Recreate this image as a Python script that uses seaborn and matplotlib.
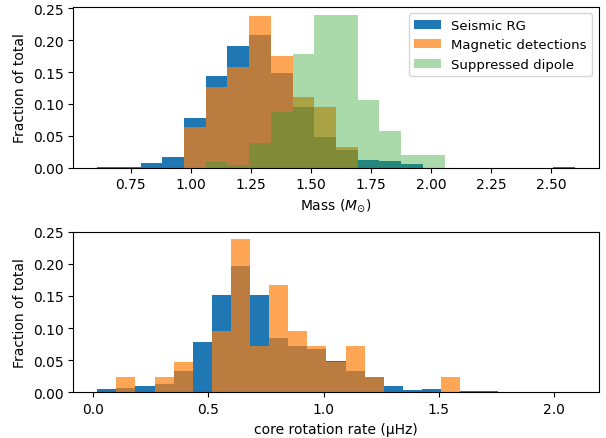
import numpy as np
import pandas as pd
import matplotlib
matplotlib.use("Agg")
import matplotlib.pyplot as plt
import seaborn as sns

# ------ DATA (fraction of total per bin) ------
mass_edges = np.linspace(0.61, 2.60, 23)
mass_seismic = [0.001, 0.001, 0.0063, 0.0158, 0.0777, 0.1444, 0.1906, 0.2089,
                0.1486, 0.0955, 0.0483, 0.0276, 0.0124, 0.0098, 0.0053, 0.0,
                0.0, 0.0, 0.0, 0.0, 0.0, 0.001]
mass_magnetic = [0.0, 0.0, 0.0, 0.0, 0.0635, 0.127, 0.1587, 0.2381,
                 0.1746, 0.1111, 0.0952, 0.0317, 0.0, 0.0, 0.0, 0.0,
                 0.0, 0.0, 0.0, 0.0, 0.0, 0.0]
mass_suppressed = [0.0, 0.0, 0.0, 0.0, 0.0, 0.0094, 0.0042, 0.0383,
                   0.0866, 0.1785, 0.2404, 0.2404, 0.1055, 0.0572, 0.0192, 0.0192,
                   0.0, 0.0, 0.0, 0.0, 0.0, 0.0]

rot_edges = np.linspace(0.017, 2.0905, 26)
rot_seismic = [0.0047, 0.0068, 0.0104, 0.0135, 0.0339, 0.0776, 0.152, 0.1964,
               0.152, 0.0839, 0.0714, 0.0677, 0.0484, 0.0333, 0.0245, 0.0104,
               0.0036, 0.0045, 0.001, 0.0015, 0.0015, 0.0, 0.0, 0.0, 0.0008]
rot_magnetic = [0.0, 0.0238, 0.0, 0.0238, 0.0476, 0.0, 0.0952, 0.2381,
                0.0714, 0.1667, 0.0952, 0.0714, 0.0476, 0.0714, 0.0238, 0.0,
                0.0, 0.0, 0.0238, 0.0, 0.0, 0.0, 0.0, 0.0, 0.0]

labels = ["Seismic RG", "Magnetic detections", "Suppressed dipole"]
colors = ["#1f77b4", "#ff7f0e", "#2ca02c"]
alphas = [1.0, 0.7, 0.4]


def draw(ax, edges, vals, lab, col, a):
    mid = (edges[:-1] + edges[1:]) / 2
    d = pd.DataFrame({"x": mid, "w": vals})
    sns.histplot(data=d, x="x", weights="w", bins=list(edges),
                 color=col, alpha=a, linewidth=0, label=lab, ax=ax)


fig, (ax1, ax2) = plt.subplots(2, 1, figsize=(6.06, 4.39), dpi=100)

# ------ MASS ------
for vals, lab, col, a in zip([mass_seismic, mass_magnetic, mass_suppressed],
                             labels, colors, alphas):
    draw(ax1, mass_edges, vals, lab, col, a)
ax1.set_xlabel(r"Mass ($M_{\odot}$)")
ax1.set_ylabel("Fraction of total")
ax1.set_yticks([0, 0.05, 0.10, 0.15, 0.20, 0.25])
ax1.legend(loc="upper right", fontsize=9.5)

# ------ CORE ROTATION ------
for vals, lab, col, a in zip([rot_seismic, rot_magnetic], labels[:2],
                             colors[:2], alphas[:2]):
    draw(ax2, rot_edges, vals, lab, col, a)
ax2.set_xlabel("core rotation rate (μHz)")
ax2.set_ylabel("Fraction of total")
ax2.set_yticks([0, 0.05, 0.10, 0.15, 0.20, 0.25])

plt.subplots_adjust(left=0.121, right=0.988, top=0.982, bottom=0.104, hspace=0.40)
plt.savefig("out.png", dpi=100)
